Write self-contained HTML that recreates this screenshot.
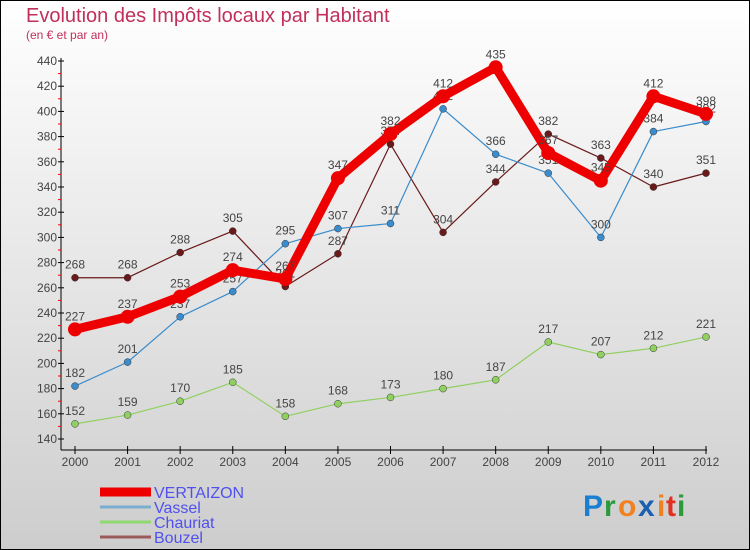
<!DOCTYPE html>
<html><head><meta charset="utf-8"><style>
html,body{margin:0;padding:0}
body{width:750px;height:550px;overflow:hidden}
svg{display:block;font-family:"Liberation Sans","DejaVu Sans",sans-serif}
</style></head><body>
<svg id="chart" width="750" height="550">
<defs><linearGradient id="bg" x1="0" y1="0" x2="0" y2="1"><stop offset="0" stop-color="#ffffff"/><stop offset="1" stop-color="#cdcdcd"/></linearGradient></defs>
<rect x="0.5" y="0.5" width="749" height="549" fill="url(#bg)" stroke="#000"/>
<text x="26" y="22" font-size="20" fill="#c0305a">Evolution des Impôts locaux par Habitant</text>
<text x="26" y="39" font-size="12" fill="#c0305a">(en € et par an)</text>
<g id="axes"></g><g id="series"></g><g id="legend"></g>
<g font-size="30" font-weight="bold">
<text x="583" y="516" fill="#1a7fd0">P</text><text x="604" y="516" fill="#2a9a3a">r</text><text x="618" y="516" fill="#f08020">o</text><text x="638" y="516" fill="#1a5fb0">x</text><text x="657" y="516" fill="#f08020">i</text><text x="666" y="516" fill="#e03020">t</text><text x="677" y="516" fill="#2a9a3a">i</text>
</g>
</svg>
<script>
const years=[2000,2001,2002,2003,2004,2005,2006,2007,2008,2009,2010,2011,2012];
const yTicks=[140,160,180,200,220,240,260,280,300,320,340,360,380,400,420,440];
const vertaizon=[227,237,253,274,267,347,382,412,435,367,345,412,398];
const vassel=[182,201,237,257,295,307,311,402,366,351,300,384,392];
const chauriat=[152,159,170,185,158,168,173,180,187,217,207,212,221];
const bouzel=[268,268,288,305,261,287,374,304,344,382,363,340,351];
const NS="http://www.w3.org/2000/svg";
const X=i=>75+i*(706-75)/12;
const Y=v=>439-(v-140)*(378/300);
function mk(t,a,p){const e=document.createElementNS(NS,t);for(const k in a)e.setAttribute(k,a[k]);p.appendChild(e);return e;}
const ax=document.getElementById('axes');
let l=mk('line',{x1:61,y1:58,x2:61,y2:450,stroke:'#000'},ax);


l=mk('line',{x1:61,y1:450,x2:707,y2:450,stroke:'#000'},ax);


yTicks.forEach((v,i)=>{
 mk('line',{x1:58,y1:Y(v),x2:64,y2:Y(v),stroke:'#000'},ax);
 if(i<yTicks.length-1)mk('line',{x1:58,y1:Y(v+10),x2:61,y2:Y(v+10),stroke:'#f00'},ax);
 const t=mk('text',{x:57,y:Y(v)+4,'font-size':12,fill:'#444','text-anchor':'end'},ax);t.textContent=v;
 
 
});
years.forEach((y,i)=>{
 mk('line',{x1:X(i),y1:446,x2:X(i),y2:454,stroke:'#000'},ax);
 const t=mk('text',{x:X(i),y:466,'font-size':12,fill:'#444','text-anchor':'middle'},ax);t.textContent=y;
 
 
});
const sg=document.getElementById('series');
function series(data,color,w,r,name){
 const g=mk('g',{},sg);
 
 
 mk('polyline',{points:data.map((v,i)=>X(i)+','+Y(v)).join(' '),fill:'none',stroke:color,'stroke-width':w,'stroke-linejoin':'round'},g);
 data.forEach((v,i)=>{
  const c=mk('circle',{cx:X(i),cy:Y(v),r:r,fill:color,stroke:w>3?color:'#333','stroke-width':w>3?0:0.5},g);
  
  
  const t=mk('text',{x:X(i),y:Y(v)-9,'font-size':12,fill:'#444','text-anchor':'middle'},g);t.textContent=v;
 });
}
series(chauriat,'#90d060',1.2,3.5,'chauriat');
series(bouzel,'#6a1a1a',1.2,3.5,'bouzel');
series(vassel,'#3a8ccc',1.2,3.5,'vassel');
series(vertaizon,'#ee0000',9,7,'vertaizon');
const lg=document.getElementById('legend');
[['VERTAIZON','#ee0000',9],['Vassel','#7aaed0',3],['Chauriat','#90d870',3],['Bouzel','#9a5a5a',3]].forEach((d,i)=>{
 const y=492+i*15;
 const g=mk('g',{},lg);
 
 
 mk('line',{x1:100,y1:y,x2:151,y2:y,stroke:d[1],'stroke-width':d[2]},g);
 const t=mk('text',{x:154,y:y+6,'font-size':16,fill:'#5050f0'},g);t.textContent=d[0];
});
</script>
</body></html>
